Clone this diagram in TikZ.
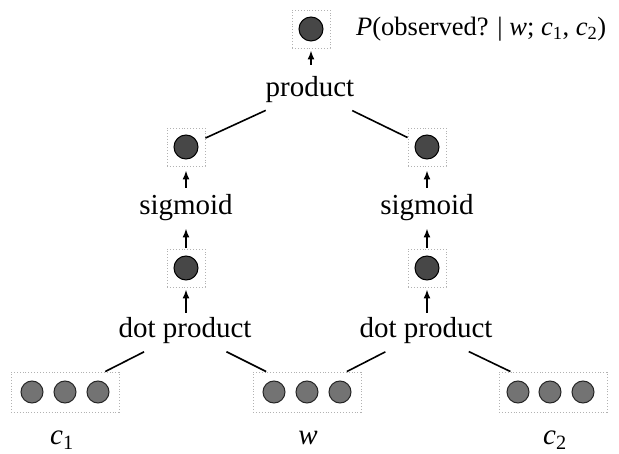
\documentclass[tikz,border=0pt]{standalone}
\usepackage{fontspec}
\setmainfont{Liberation Serif}
\usetikzlibrary{arrows.meta}
\begin{document}
\begin{tikzpicture}[x=1pt,y=-1pt,
  lbl/.style={font=\fontsize{29}{34}\selectfont, inner sep=2pt, anchor=base},
  onebox/.style={draw=black!30, dotted, line width=0.9pt, minimum width=38pt, minimum height=38pt, inner sep=0pt},
  vecbox/.style={draw=black!30, dotted, line width=0.9pt, minimum width=108pt, minimum height=40pt, inner sep=0pt},
  dotc/.style={circle, draw=black, line width=1pt, fill=black!72, minimum size=24pt, inner sep=0pt},
  vecc/.style={circle, draw=black!85, line width=1pt, fill=black!55, minimum size=22pt, inner sep=0pt},
  conn/.style={line width=1.6pt, shorten <=12pt},
  arr/.style={line width=1.6pt, -{Latex[length=9pt,width=7pt]}},
]
\useasboundingbox (0,0) rectangle (619,454);

% top output
\node[onebox] (tb) at (311,29) {};
\node[dotc] (tc) at (311,29) {};
\node[lbl, anchor=base west, inner sep=0pt, font=\fontsize{26.5}{32}\selectfont] (plab) at (356,36)
  {\textit{P}(observed? | \textit{w}; \textit{c}\textsubscript{1}, \textit{c}\textsubscript{2})};
\node[lbl] (prod) at (310,97) {product};

% sigmoid outputs
\node[onebox] (sbL) at (186,147) {};
\node[dotc] (scL) at (186,147) {};
\node[onebox] (sbR) at (427,147) {};
\node[dotc] (scR) at (427,147) {};
\node[lbl] (sigL) at (186,215) {sigmoid};
\node[lbl] (sigR) at (427,215) {sigmoid};

% dot product outputs
\node[onebox] (mbL) at (186,268) {};
\node[dotc] (mcL) at (186,268) {};
\node[onebox] (mbR) at (427,268) {};
\node[dotc] (mcR) at (427,268) {};
\node[lbl] (dpL) at (185,338) {dot product};
\node[lbl] (dpR) at (426,338) {dot product};

% vectors
\node[vecbox] (vb1) at (65,392) {};
\node[vecc] (v1a) at (32,392) {};
\node[vecc] (v1b) at (65,392) {};
\node[vecc] (v1c) at (98,392) {};
\node[vecbox] (vb2) at (307,392) {};
\node[vecc] (v2a) at (274,392) {};
\node[vecc] (v2b) at (307,392) {};
\node[vecc] (v2c) at (340,392) {};
\node[vecbox] (vb3) at (553,392) {};
\node[vecc] (v3a) at (518,392) {};
\node[vecc] (v3b) at (550,392) {};
\node[vecc] (v3c) at (583,392) {};

\node[lbl, inner sep=0pt] (lc1) at (62,445) {\textit{c}\textsubscript{1}};
\node[lbl, inner sep=0pt] (lw) at (308,445) {\textit{w}};
\node[lbl, inner sep=0pt] (lc2) at (555,445) {\textit{c}\textsubscript{2}};

% connectors
\draw[conn] (prod) -- (sbL);
\draw[conn] (prod) -- (sbR);
\draw[conn] (dpL) -- (vb1);
\draw[conn] (dpL) -- (vb2);
\draw[conn] (dpR) -- (vb2);
\draw[conn] (dpR) -- (vb3);

% arrows
\draw[arr, shorten <=10pt, shorten >=2pt] (tb.south |- prod.north) -- (tb.south);
\draw[arr, shorten <=5pt, shorten >=4pt] (sbL.south |- sigL.north) -- (sbL.south);
\draw[arr, shorten <=5pt, shorten >=4pt] (sbR.south |- sigR.north) -- (sbR.south);
\draw[arr, shorten <=1pt, shorten >=5pt] (mbL.north) -- (mbL.north |- sigL.south);
\draw[arr, shorten <=1pt, shorten >=5pt] (mbR.north) -- (mbR.north |- sigR.south);
\draw[arr, shorten <=3pt, shorten >=2pt] (mbL.south |- dpL.north) -- (mbL.south);
\draw[arr, shorten <=3pt, shorten >=2pt] (mbR.south |- dpR.north) -- (mbR.south);
\end{tikzpicture}
\end{document}
